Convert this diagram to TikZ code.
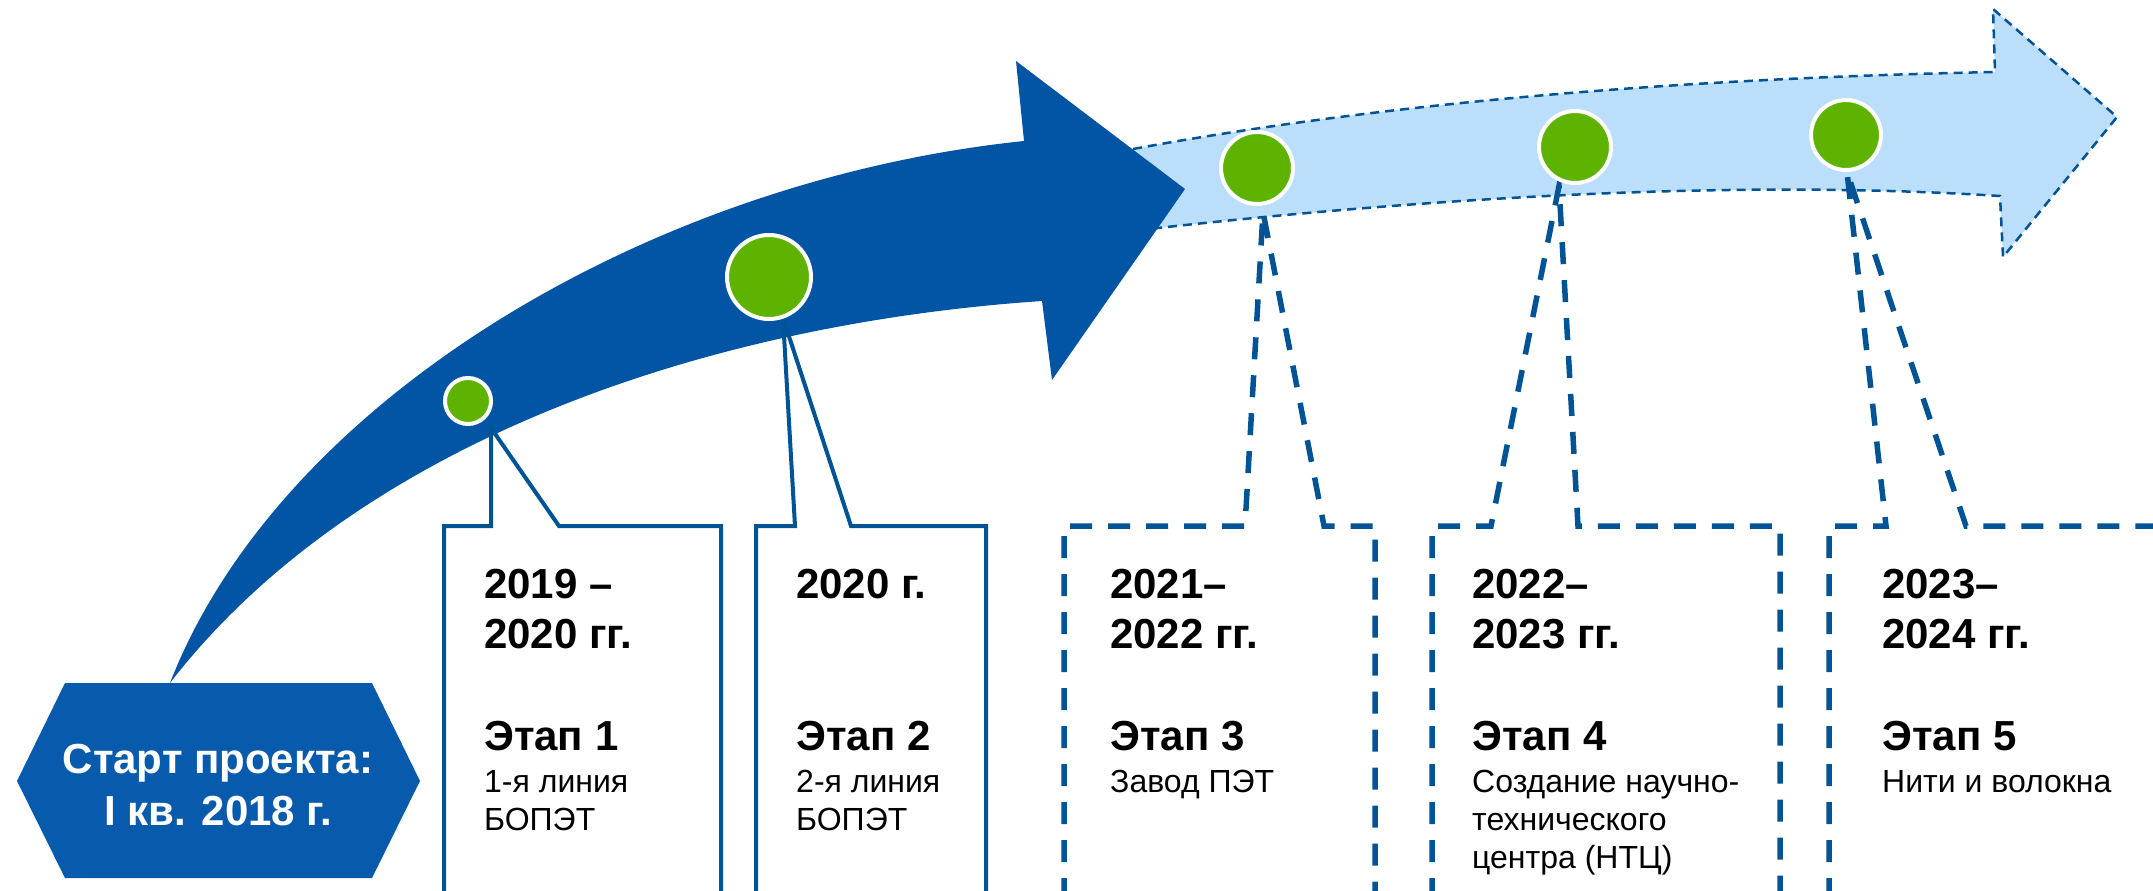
\documentclass[tikz,border=0pt]{standalone}
\usepackage{fontspec}
\setmainfont{Liberation Sans}
\definecolor{darkarrow}{RGB}{2,84,164}
\definecolor{hexblue}{RGB}{8,90,173}
\definecolor{lightarrow}{RGB}{187,222,251}
\definecolor{boxline}{RGB}{0,84,150}
\definecolor{dotgreen}{RGB}{93,179,0}
\begin{document}
\begin{tikzpicture}[x=1pt,y=-1pt,
  solidbox/.style={draw=boxline,line width=4,line join=miter},
  dashbox/.style={draw=boxline,line width=5.5,dash pattern=on 22 off 16},
  milestone/.style={circle,fill=dotgreen,draw=white,line width=4,inner sep=0},
  yeartxt/.style={anchor=base west,inner sep=0,font=\fontsize{42}{50}\selectfont\bfseries},
  desctxt/.style={anchor=base west,inner sep=0,font=\fontsize{32}{38}\selectfont},
  hextxt/.style={anchor=base,inner sep=0,text=white,font=\fontsize{42}{50}\selectfont\bfseries}]
\useasboundingbox (0,0) rectangle (2153,891);
% light arrow
\fill[lightarrow] (1133,149) .. controls (1400,100) and (1700,78) .. (1995,72)
  -- (1993,9) -- (2117,117) -- (2003,257) -- (2000,196)
  .. controls (1750,180) and (1450,195) .. (1140,230) -- cycle;
\draw[boxline,line width=2.5,dash pattern=on 9 off 6]
  (1133,149) .. controls (1400,100) and (1700,78) .. (1995,72)
  -- (1993,9) -- (2117,117) -- (2003,257) -- (2000,196)
  .. controls (1750,180) and (1450,195) .. (1140,230);
% dark arrow
\fill[darkarrow] (170,683) .. controls (280,400) and (650,180) .. (1024,141)
  -- (1016,61) -- (1185,189) -- (1052,380) -- (1042,301)
  .. controls (690,325) and (350,450) .. (170,683) -- cycle;
% start hexagon
\fill[hexblue] (65,683) -- (372,683) -- (420,781) -- (372,878) -- (65,878) -- (17,781) -- cycle;
\node[hextxt] (start1) at (218,773) {Старт проекта:};
\node[hextxt] (start2) at (218,825) {I кв. 2018 г.};
% callout boxes
\coordinate (p1) at (491,428);
\coordinate (p2) at (783,318);
\coordinate (p3) at (1263,212);
\coordinate (p4) at (1559,186);
\coordinate (p5) at (1847,172);
\draw[solidbox] (444,900) -- (444,526) -- (491,526) -- (p1) -- (559,526) -- (721,526) -- (721,900);
\draw[solidbox] (756,900) -- (756,526) -- (795,526) -- (p2) -- (851,526) -- (986,526) -- (986,900);
\draw[dashbox] (1064,900) -- (1064,526) -- (1245,526) -- (p3) -- (1324,526) -- (1375,526) -- (1375,900);
\draw[dashbox] (1432,900) -- (1432,526) -- (1491,526) -- (p4) -- (1578,526) -- (1780,526) -- (1780,900);
\draw[dashbox] (1829,900) -- (1829,526) -- (1886,526) -- (p5) -- (1966,526) -- (2160,526);
% milestones
\node[milestone,minimum size=46] (m1) at (468,401) {};
\node[milestone,minimum size=84] (m2) at (769,277) {};
\node[milestone,minimum size=72] (m3) at (1257,168) {};
\node[milestone,minimum size=72] (m4) at (1575,147) {};
\node[milestone,minimum size=70] (m5) at (1846,135) {};
% texts
\node[yeartxt] (y1a) at (484,598) {2019 –};
\node[yeartxt] (y1b) at (484,648) {2020 гг.};
\node[yeartxt] (e1) at (484,750) {Этап 1};
\node[desctxt] (d1a) at (484,792) {1-я линия};
\node[desctxt] (d1b) at (484,830) {БОПЭТ};
\node[yeartxt] (y2a) at (796,598) {2020 г.};
\node[yeartxt] (e2) at (796,750) {Этап 2};
\node[desctxt] (d2a) at (796,792) {2-я линия};
\node[desctxt] (d2b) at (796,830) {БОПЭТ};
\node[yeartxt] (y3a) at (1110,598) {2021–};
\node[yeartxt] (y3b) at (1110,648) {2022 гг.};
\node[yeartxt] (e3) at (1110,750) {Этап 3};
\node[desctxt] (d3a) at (1110,792) {Завод ПЭТ};
\node[yeartxt] (y4a) at (1472,598) {2022–};
\node[yeartxt] (y4b) at (1472,648) {2023 гг.};
\node[yeartxt] (e4) at (1472,750) {Этап 4};
\node[desctxt] (d4a) at (1472,792) {Создание научно-};
\node[desctxt] (d4b) at (1472,830) {технического};
\node[desctxt] (d4c) at (1472,868) {центра (НТЦ)};
\node[yeartxt] (y5a) at (1882,598) {2023–};
\node[yeartxt] (y5b) at (1882,648) {2024 гг.};
\node[yeartxt] (e5) at (1882,750) {Этап 5};
\node[desctxt] (d5a) at (1882,792) {Нити и волокна};
\end{tikzpicture}
\end{document}
